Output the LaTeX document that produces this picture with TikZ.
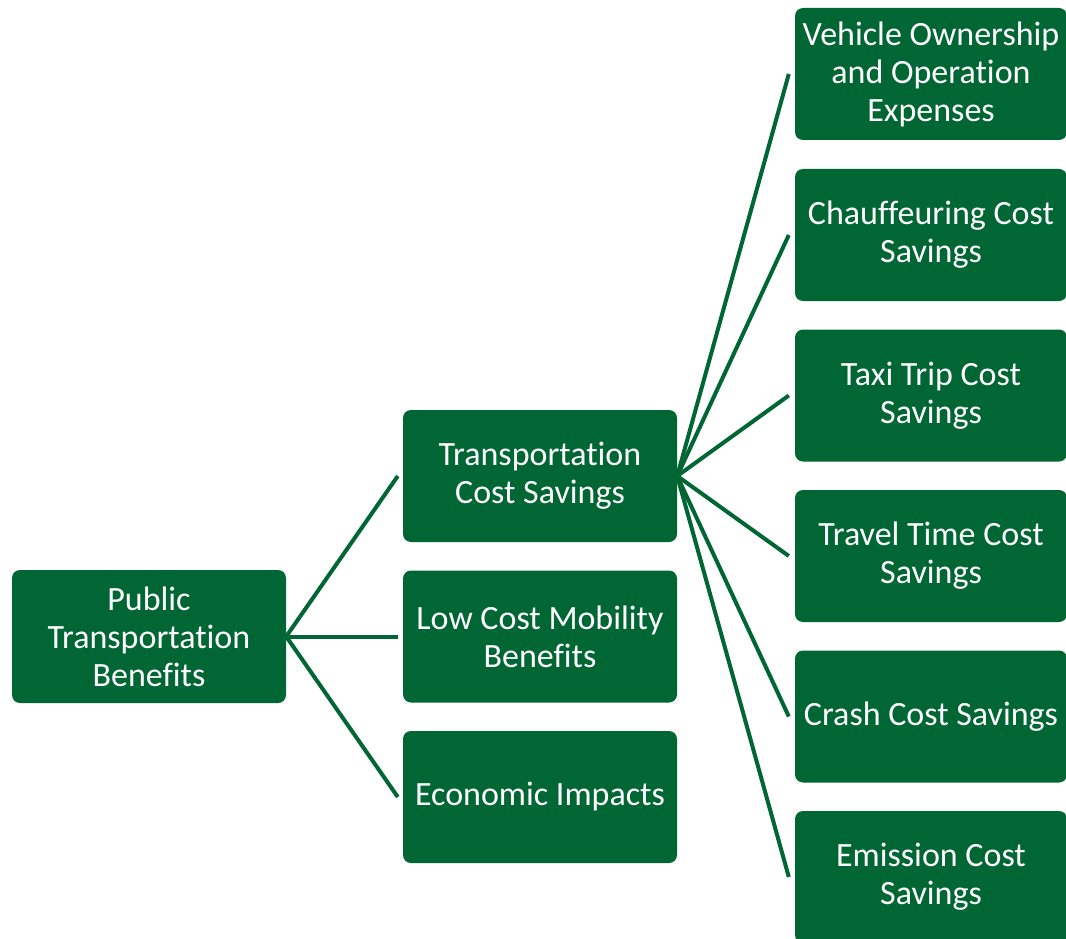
\documentclass[tikz,border=0pt]{standalone}
\usepackage{fontspec}
\setmainfont{Carlito}[Ligatures = NoCommon, RawFeature = {-liga;-clig}]
\usepackage{tikz}
\usetikzlibrary{positioning, calc}

\definecolor{ptgreen}{HTML}{006633}

\tikzset{
    benefit/.style = {rectangle, fill = ptgreen, rounded corners = 8pt, text = white,
        align = center, inner sep = 0pt, minimum height = 132pt,
        font = \fontsize{34}{38}\selectfont},
    link/.style = {draw = ptgreen, line width = 4pt}
}

\begin{document}
\begin{tikzpicture}[x = 1pt, y = -1pt]
            \useasboundingbox (0,0) rectangle (1066,939);
            % root
            \node[benefit, minimum width = 274pt, minimum height = 133pt] (ptb) at (149,636.5) {Public\\Transportation\\Benefits};
            % second level
            \node[benefit, minimum width = 274pt] (tcs) at (540,476) {Transportation\\Cost Savings};
            \node[benefit, minimum width = 274pt] (lcm) at (540,636.5) {Low Cost Mobility\\Benefits};
            \node[benefit, minimum width = 274pt] (eco) at (540,797) {Economic Impacts};
            % third level
            \node[benefit, minimum width = 272pt] (voo) at (931,74) {Vehicle Ownership\\and Operation\\Expenses};
            \node[benefit, minimum width = 272pt] (chf) at (931,235) {Chauffeuring Cost\\Savings};
            \node[benefit, minimum width = 272pt] (tax) at (931,395.5) {Taxi Trip Cost\\Savings};
            \node[benefit, minimum width = 272pt] (ttc) at (931,556) {Travel Time Cost\\Savings};
            \node[benefit, minimum width = 272pt] (crs) at (931,716.5) {Crash Cost Savings};
            \node[benefit, minimum width = 272pt] (ems) at (931,877) {Emission Cost\\Savings};
            % connectors
            \foreach \m in {tcs, lcm, eco}
                \draw[link] (ptb.east) -- ([xshift = -5pt]\m.west);
            \foreach \r in {voo, chf, tax, ttc, crs, ems}
                \draw[link] (tcs.east) -- ([xshift = -6pt]\r.west);
        \end{tikzpicture}
\end{document}
